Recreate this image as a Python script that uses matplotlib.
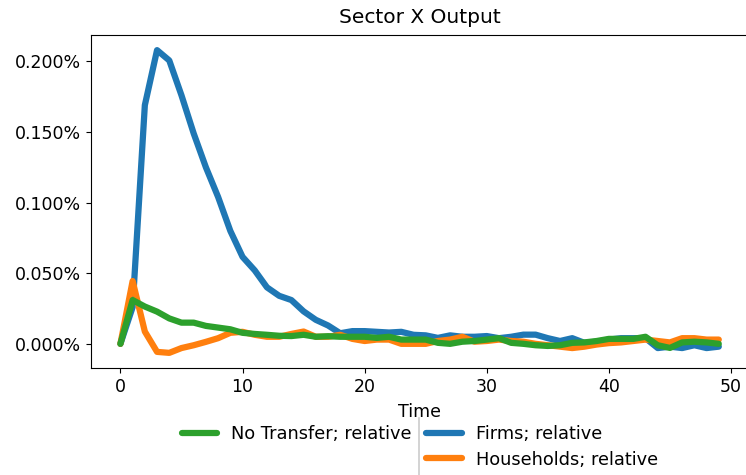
import matplotlib
matplotlib.use("Agg")
import matplotlib.pyplot as plt
from matplotlib.ticker import PercentFormatter
from matplotlib.lines import Line2D
import numpy as np

# Output response (fraction, relative to baseline) by period
time = np.arange(50)

firms = [0.0, 0.026, 0.169, 0.208, 0.2007, 0.176, 0.149, 0.125, 0.104, 0.080,
         0.0616, 0.052, 0.040, 0.034, 0.031, 0.023, 0.017, 0.013, 0.0075, 0.009,
         0.009, 0.0085, 0.008, 0.0085, 0.0064, 0.006, 0.0042, 0.006, 0.005, 0.005,
         0.0055, 0.004, 0.005, 0.0065, 0.0065, 0.004, 0.002, 0.004, 0.0007, 0.0015,
         0.003, 0.004, 0.004, 0.004, -0.003, -0.002, -0.003, -0.001, -0.003, -0.002]

households = [0.0, 0.0445, 0.0087, -0.0057, -0.0064, -0.003, -0.001, 0.0014, 0.004, 0.0078,
              0.0085, 0.0064, 0.005, 0.005, 0.007, 0.0087, 0.005, 0.005, 0.0064, 0.0035,
              0.002, 0.003, 0.003, 0.0, 0.0, 0.0, 0.002, 0.003, 0.005, 0.0015,
              0.002, 0.003, 0.002, 0.0015, 0.0, -0.001, -0.002, -0.003, -0.002, -0.0005,
              0.0005, 0.001, 0.002, 0.003, 0.002, 0.001, 0.004, 0.004, 0.003, 0.003]

no_transfer = [0.0, 0.031, 0.0264, 0.0228, 0.018, 0.015, 0.015, 0.0127, 0.0115, 0.0103,
               0.0078, 0.007, 0.0064, 0.0057, 0.0055, 0.0064, 0.005, 0.0054, 0.005, 0.005,
               0.005, 0.0042, 0.005, 0.003, 0.003, 0.003, 0.0007, 0.0, 0.0015, 0.002,
               0.003, 0.004, 0.0007, 0.0, -0.001, -0.0015, -0.001, 0.0007, 0.001, 0.002,
               0.0035, 0.0035, 0.0035, 0.005, -0.001, -0.0029, 0.001, 0.0015, 0.001, 0.0]

# values above are in percent; convert to fractions
firms = np.array(firms) / 100
households = np.array(households) / 100
no_transfer = np.array(no_transfer) / 100

W, H = 746, 475
fig = plt.figure(figsize=(W / 100, H / 100), dpi=100)
ax = fig.add_axes([90.5 / W, (H - 368) / H, (748.7 - 90.5) / W, (368 - 35) / H])

lw = 4.5
style = dict(lw=lw, solid_capstyle="round", solid_joinstyle="round")
l_firms, = ax.plot(time, firms, color="#1f77b4", label="Firms; relative", **style)
l_hh, = ax.plot(time, households, color="#ff7f0e", label="Households; relative", **style)
l_nt, = ax.plot(time, no_transfer, color="#2ca02c", label="No Transfer; relative", **style)

ax.set_yticks([0, 0.0005, 0.001, 0.0015, 0.002])
ax.yaxis.set_major_formatter(PercentFormatter(xmax=1, decimals=3))
ax.set_xticks([0, 10, 20, 30, 40, 50])
ax.tick_params(labelsize=12.5)
ax.set_title("Sector X Output", fontsize=14.5, pad=8.5)
ax.set_xlabel("Time", fontsize=12.5, labelpad=5.5)

leg_kw = dict(fontsize=12.8, handlelength=2.0, borderaxespad=0, labelspacing=0.42)
anchor = (419 / W, (H - 418) / H)
leg1 = fig.legend(handles=[l_nt], loc="upper right", frameon=False,
                  bbox_to_anchor=anchor, **leg_kw)
leg2 = fig.legend(handles=[l_firms, l_hh], loc="upper left", frameon=False,
                  bbox_to_anchor=anchor, **leg_kw)

# separator between the legend groups
fig.add_artist(Line2D([419 / W, 419 / W], [0, (H - 418) / H],
                      transform=fig.transFigure, color="#cccccc", lw=1.2))

fig.savefig("out.png", dpi=100)
